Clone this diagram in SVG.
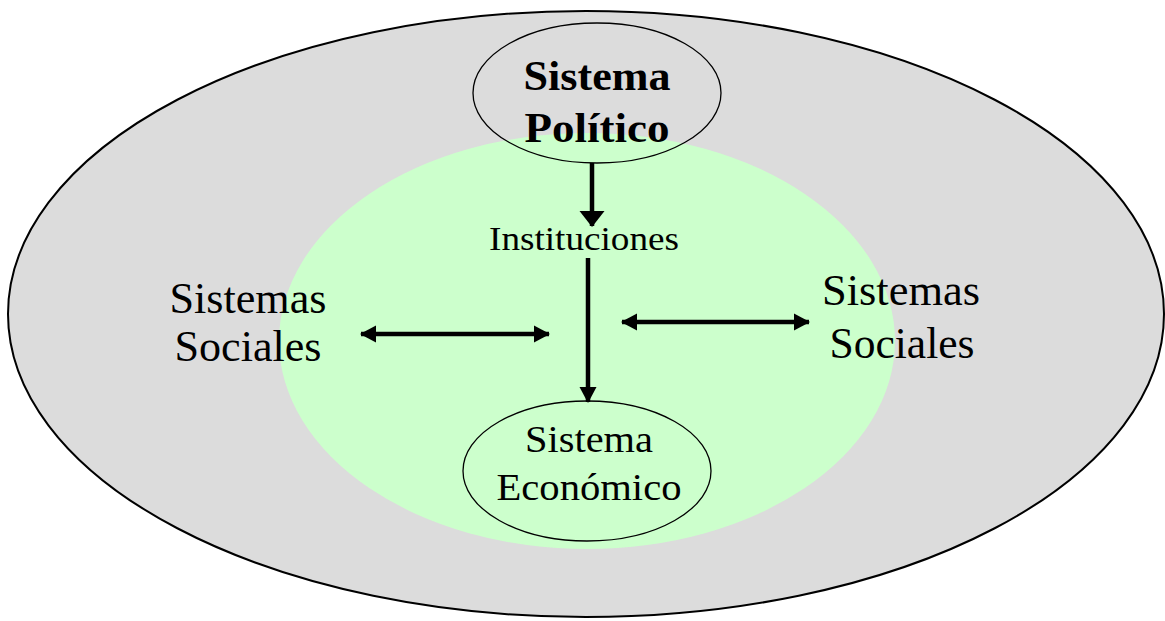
<svg xmlns="http://www.w3.org/2000/svg" width="1165" height="621" viewBox="0 0 1165 621">
<style>
.t{font-family:"Liberation Serif","Times New Roman",Tinos,serif;fill:#000;text-anchor:middle}
.b{font-weight:bold}
.node{fill:none;stroke:#000;stroke-width:1.3}
.c{stroke:#000;stroke-width:4.5;fill:none}
</style>
<defs>
<marker id="ah" markerUnits="userSpaceOnUse" markerWidth="18" markerHeight="26" refX="15" refY="13" orient="auto-start-reverse" viewBox="0 0 18 26">
<path d="M0,0.5 L16,13 L0,25.5 Z" fill="#000"/>
</marker>
<marker id="ah2" markerUnits="userSpaceOnUse" markerWidth="18" markerHeight="18" refX="15" refY="9" orient="auto-start-reverse" viewBox="0 0 18 18">
<path d="M0,0.5 L16,9 L0,17.5 Z" fill="#000"/>
</marker>
</defs>
<rect width="1165" height="621" fill="#fff"/>
<g id="outer">
<ellipse cx="586" cy="314" rx="578" ry="303" fill="#dcdcdc" stroke="#000" stroke-width="2"/>
</g>
<g id="inner">
<ellipse cx="587" cy="341" rx="308" ry="208" fill="#ccffcc"/>
</g>
<g id="politico">
<ellipse class="node" cx="597" cy="93" rx="124" ry="70"/>
<text class="t b" x="597" y="90" font-size="42" textLength="147" lengthAdjust="spacingAndGlyphs">Sistema</text>
<text class="t b" x="597" y="142" font-size="42" textLength="145" lengthAdjust="spacingAndGlyphs">Político</text>
</g>
<g id="instituciones">
<text class="t" x="584" y="250" font-size="34" textLength="190" lengthAdjust="spacingAndGlyphs">Instituciones</text>
</g>
<g id="economico">
<ellipse class="node" cx="587" cy="471" rx="124" ry="70"/>
<text class="t" x="589" y="452" font-size="38" textLength="128" lengthAdjust="spacingAndGlyphs">Sistema</text>
<text class="t" x="589" y="500" font-size="38" textLength="185" lengthAdjust="spacingAndGlyphs">Económico</text>
</g>
<g id="sociales-izq">
<text class="t" x="248" y="313" font-size="44" textLength="157" lengthAdjust="spacingAndGlyphs">Sistemas</text>
<text class="t" x="248" y="361" font-size="44" textLength="147" lengthAdjust="spacingAndGlyphs">Sociales</text>
</g>
<g id="sociales-der">
<text class="t" x="901" y="305" font-size="44" textLength="158" lengthAdjust="spacingAndGlyphs">Sistemas</text>
<text class="t" x="902" y="358" font-size="44" textLength="145" lengthAdjust="spacingAndGlyphs">Sociales</text>
</g>
<g id="connectors">
<line class="c" x1="592" y1="163" x2="592" y2="226" marker-end="url(#ah)"/>
<line class="c" x1="588" y1="258" x2="588" y2="402" marker-end="url(#ah2)"/>
<line class="c" x1="361" y1="334" x2="549" y2="334" marker-start="url(#ah2)" marker-end="url(#ah2)"/>
<line class="c" x1="622" y1="322" x2="809" y2="322" marker-start="url(#ah2)" marker-end="url(#ah2)"/>
</g>
</svg>
